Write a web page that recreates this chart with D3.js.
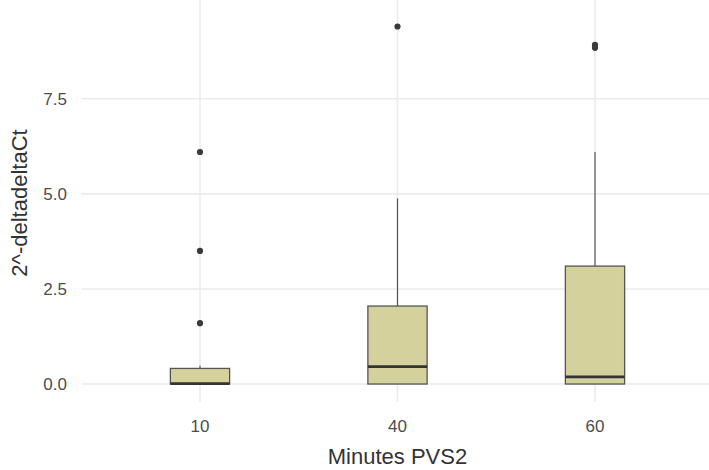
<!DOCTYPE html>
<html>
<head>
<meta charset="utf-8">
<script src="https://cdn.jsdelivr.net/npm/d3@7"></script>
<style>
  body { margin: 0; background: #fff; }
  text { font-family: "Liberation Sans", Arial, sans-serif; }
</style>
</head>
<body>
<svg id="chart" width="709" height="470"></svg>
<script>
const categories = ["10", "40", "60"];
const q1 = [0, 0, 0];
const medians = [0.01, 0.46, 0.19];
const q3 = [0.41, 2.05, 3.1];
const whiskerLow = [0, 0, 0];
const whiskerHigh = [0.48, 4.88, 6.1];
const outliers = [[1.6, 3.5, 6.1], [9.4], [8.84, 8.92]];
const yTicks = [0, 2.5, 5, 7.5];

const svg = d3.select("#chart");
const width = 709, height = 470;
const panelLeft = 81.5, panelRight = 713.5, panelTop = 0, panelBottom = 402;

const x = d3.scalePoint()
    .domain(categories)
    .range([panelLeft, panelRight])
    .padding(0.6);

const y = d3.scaleLinear()
    .domain([-0.47, 9.87])
    .range([401.9, 8.6]);

const boxW = x.step() * 0.3;

// grid
svg.append("g").selectAll("line")
    .data(yTicks)
    .enter()
    .append("line")
    .attr("x1", panelLeft)
    .attr("x2", width)
    .attr("y1", d => y(d))
    .attr("y2", d => y(d))
    .attr("stroke", "#ebebeb")
    .attr("stroke-width", 1.6);

svg.append("g").selectAll("line")
    .data(categories)
    .enter()
    .append("line")
    .attr("x1", d => x(d))
    .attr("x2", d => x(d))
    .attr("y1", panelTop)
    .attr("y2", panelBottom)
    .attr("stroke", "#ebebeb")
    .attr("stroke-width", 1.6);

// boxes
const g = svg.append("g");
categories.forEach(function(c, i) {
    var cx = x(c);
    g.append("line")
        .attr("x1", cx).attr("x2", cx)
        .attr("y1", y(q3[i])).attr("y2", y(whiskerHigh[i]))
        .attr("stroke", "#555").attr("stroke-width", 1.2);
    g.append("line")
        .attr("x1", cx).attr("x2", cx)
        .attr("y1", y(q1[i])).attr("y2", y(whiskerLow[i]))
        .attr("stroke", "#555").attr("stroke-width", 1.2);
    g.append("rect")
        .attr("x", cx - boxW / 2)
        .attr("y", y(q3[i]))
        .attr("width", boxW)
        .attr("height", y(q1[i]) - y(q3[i]))
        .attr("fill", "#d4d19c")
        .attr("stroke", "#555")
        .attr("stroke-width", 1.3);
    g.append("line")
        .attr("x1", cx - boxW / 2).attr("x2", cx + boxW / 2)
        .attr("y1", y(medians[i])).attr("y2", y(medians[i]))
        .attr("stroke", "#333").attr("stroke-width", 2.8);
    g.selectAll(null)
        .data(outliers[i])
        .enter()
        .append("circle")
        .attr("cx", cx)
        .attr("cy", d => y(d))
        .attr("r", 3.1)
        .attr("fill", "#3a3a3a");
});

// axis labels
svg.append("g").selectAll("text")
    .data(yTicks)
    .enter()
    .append("text")
    .attr("x", 67)
    .attr("y", d => y(d))
    .attr("dy", "0.35em")
    .attr("text-anchor", "end")
    .attr("fill", "#4d4d4d")
    .style("font-size", "17px")
    .text(d => d3.format(".1f")(d));

svg.append("g").selectAll("text")
    .data(categories)
    .enter()
    .append("text")
    .attr("x", d => x(d))
    .attr("y", 432)
    .attr("text-anchor", "middle")
    .attr("fill", "#4d4d4d")
    .style("font-size", "17px")
    .text(d => d);

svg.append("text")
    .attr("x", x("40"))
    .attr("y", 464)
    .attr("text-anchor", "middle")
    .attr("fill", "#333")
    .style("font-size", "22px")
    .text("Minutes PVS2");

svg.append("text")
    .attr("transform", "translate(27," + 203 + ") rotate(-90)")
    .attr("text-anchor", "middle")
    .attr("fill", "#333")
    .style("font-size", "22px")
    .text("2^-deltadeltaCt");
</script>
</body>
</html>
